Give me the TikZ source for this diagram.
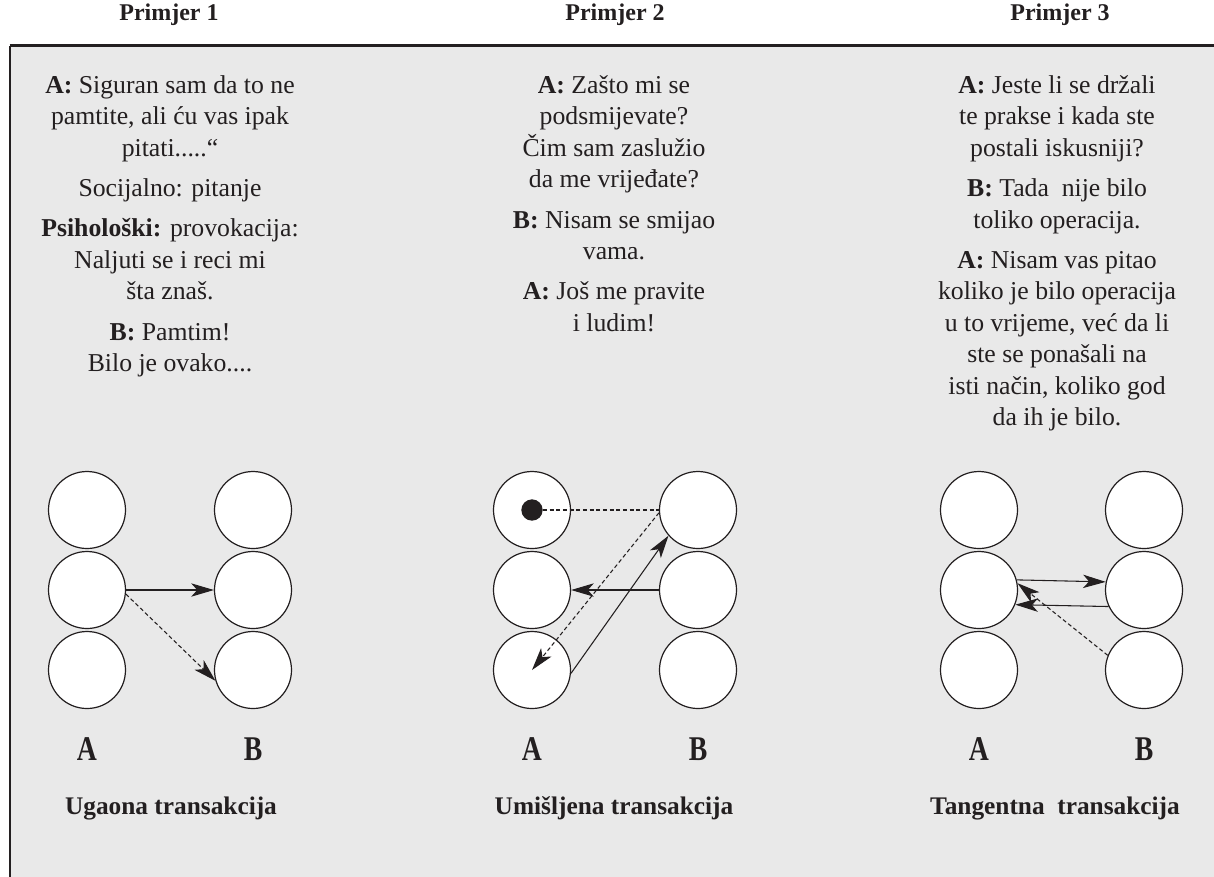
\documentclass[tikz,border=0pt]{standalone}
\usepackage{fontspec}
\setmainfont{Liberation Serif}
\usetikzlibrary{arrows.meta}
\definecolor{panel}{HTML}{E9E9E9}
\definecolor{ink}{HTML}{231F20}
\tikzset{
  circ/.style={circle, draw=ink, fill=white, minimum size=57.75pt, inner sep=0pt, line width=0.9pt},
  blackdot/.style={circle, fill=ink, minimum size=16pt, inner sep=0pt},
  arr/.style={draw=ink, line width=0.8pt, -{Stealth[length=17pt, width=10pt, inset=4.5pt]}},
  dsh/.style={dash pattern=on 3pt off 2pt},
  body/.style={align=center, anchor=north, inner sep=0pt, text=ink,
    font=\fontsize{19.3pt}{23.6pt}\selectfont},
  heading/.style={anchor=base, inner sep=0pt, text=ink, font=\fontsize{18pt}{20pt}\selectfont\bfseries},
  title/.style={anchor=base, inner sep=0pt, text=ink, font=\fontsize{19pt}{22pt}\selectfont\bfseries},
  colab/.style={anchor=base, inner sep=0pt, text=ink, font=\fontsize{26pt}{28pt}\selectfont\bfseries},
}
\newcommand{\cond}[1]{\scalebox{0.8}[1]{#1}}
\begin{document}
\begin{tikzpicture}[x=0.75pt, y=-0.75pt]
\useasboundingbox (0,0) rectangle (1214,876);
% panel
\fill[panel] (9.5,45.5) rectangle (1240,900);
\draw[ink, line width=2.2pt] (9.5,45.5) -- (1240,45.5);
\draw[ink, line width=1.5pt] (9.5,45.5) -- (9.5,900);

% headings
\node[heading] (h1) at (169,20) {Primjer 1};
\node[heading] (h2) at (615,20) {Primjer 2};
\node[heading] (h3) at (1060,20) {Primjer 3};

% texts
\node[body] (t1) at (170,75) {\textbf{A:} Siguran sam da to ne\\pamtite, ali ću vas ipak\\pitati.....“\\[6.75pt]
Socijalno: pitanje\\[6.75pt]
\textbf{Psihološki:} provokacija:\\Naljuti se i reci mi\\šta znaš.\\[6.75pt]
\textbf{B:} Pamtim!\\Bilo je ovako....};
\node[body] (t2) at (614,75) {\textbf{A:} Zašto mi se\\podsmijevate?\\Čim sam zaslužio\\da me vrijeđate?\\[6.75pt]
\textbf{B:} Nisam se smijao\\vama.\\[6.75pt]
\textbf{A:} Još me pravite\\i ludim!};
\node[body] (t3) at (1057,75) {\textbf{A:} Jeste li se držali\\te prakse i kada ste\\postali iskusniji?\\[6.75pt]
\textbf{B:} Tada~ nije bilo\\toliko operacija.\\[6.75pt]
\textbf{A:} Nisam vas pitao\\koliko je bilo operacija\\u to vrijeme, već da li\\ste se ponašali na\\isti način, koliko god\\da ih je bilo.};

% circles
\foreach \k/\xa/\xb in {1/87/253, 2/532/698, 3/979/1144}{
  \node[circ] (a\k t) at (\xa,510) {};
  \node[circ] (a\k m) at (\xa,590) {};
  \node[circ] (a\k b) at (\xa,670) {};
  \node[circ] (b\k t) at (\xb,510) {};
  \node[circ] (b\k m) at (\xb,590) {};
  \node[circ] (b\k b) at (\xb,670) {};
  \node[colab] (la\k) at (\xa,760) {\cond{A}};
  \node[colab] (lb\k) at (\xb,760) {\cond{B}};
}

% diagram 1
\draw[arr] (a1m.east) -- (b1m.west);
\draw[arr, dsh] (a1m.-6) -- (b1b.196);

% diagram 2
\node[blackdot] (d2) at (a2t) {};
\draw[ink, line width=0.8pt, dsh] (d2.east) -- (b2t.west);
\draw[arr, dsh] (b2t.184) -- (a2b.center);
\draw[arr] (a2b.-5) -- (b2t.221);
\draw[arr] (b2m.west) -- (a2m.east);

% diagram 3
\draw[arr] (a3m.15) -- (b3m.168);
\draw[arr] (b3m.205) -- (a3m.-22);
\draw[arr, dsh] (b3b.158) -- (a3m.10);

% titles
\node[title] (s1) at (171,814) {Ugaona transakcija};
\node[title] (s2) at (614,814) {Umišljena transakcija};
\node[title] (s3) at (1055,814) {Tangentna~ transakcija};
\end{tikzpicture}
\end{document}
